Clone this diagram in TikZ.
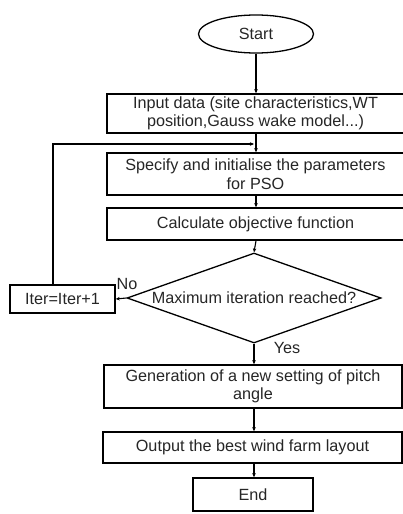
\documentclass[tikz,border=0pt]{standalone}
\usepackage{fontspec}
\setmainfont{Liberation Sans}
\usetikzlibrary{shapes.geometric,arrows.meta,shadows}
\begin{document}
\begin{tikzpicture}[x=1pt,y=-1pt,
  every node/.style={font=\fontsize{16.2}{18.5}\selectfont, text=black!85, inner sep=0pt, align=center},
  box/.style={draw, line width=1.5pt, fill=white, rectangle,
    drop shadow={opacity=0.35, shadow xshift=1pt, shadow yshift=-1pt}},
  link/.style={line width=1.1pt, -{Stealth[length=4pt,width=3.5pt]}}]
\useasboundingbox (0,0) rectangle (403,514);
\node[draw, line width=1.3pt, ellipse, minimum width=115pt, minimum height=38pt] (start) at (256,34) {Start};
\node[box, minimum width=297pt, minimum height=39pt] (input) at (255.5,113.5) {Input data (site characteristics,WT\\position,Gauss wake model...)};
\node[box, minimum width=297pt, minimum height=42pt] (spec) at (255.5,174) {Specify and initialise the parameters\\for PSO};
\node[box, minimum width=297pt, minimum height=32pt] (calc) at (255.5,224) {Calculate objective function};
\node[draw, line width=1.3pt, diamond, aspect=2.82, minimum width=254pt, minimum height=90pt] (dec) at (254,298) {Maximum iteration reached?};
\node[box, minimum width=105pt, minimum height=28pt] (iter) at (62.5,299) {Iter=Iter+1};
\node[box, minimum width=298pt, minimum height=43pt] (gen) at (253,386.5) {Generation of a new setting of pitch\\angle};
\node[box, minimum width=299pt, minimum height=31pt] (out) at (252.5,447.5) {Output the best wind farm layout};
\node[box, minimum width=120pt, minimum height=33pt] (end) at (253,494.5) {End};
\node (no) at (127,284) {No};
\node (yes) at (287,348) {Yes};
\coordinate (loop) at (254,144);
\draw[link] (start.south) -- (start.south |- input.north);
\draw[link] (input.south -| start.south) -- (start.south |- spec.north);
\draw[link] (start.south |- spec.south) -- (start.south |- calc.north);
\draw[link] (start.south |- calc.south) -- (dec.north);
\draw[link] (dec.south) -- (dec.south |- gen.north);
\draw[link] (dec.south |- gen.south) -- (dec.south |- out.north);
\draw[link] (dec.south |- out.south) -- (dec.south |- end.north);
\draw[link] (dec.west) -- (iter.east);
\draw[link] (53,285) -- (53,144) -- (loop);
\end{tikzpicture}
\end{document}
